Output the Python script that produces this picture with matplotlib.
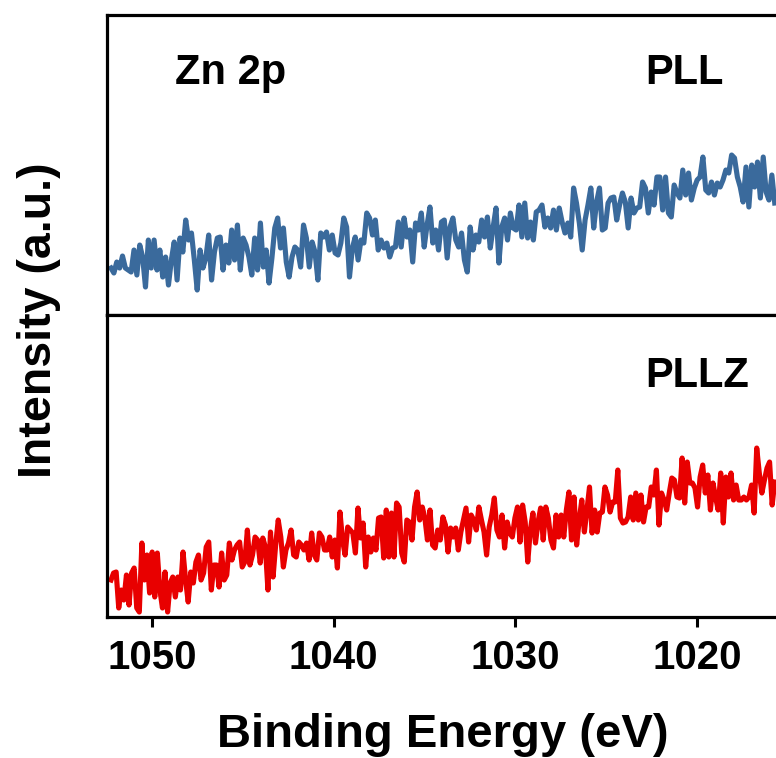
"""
Zn 2p XPS spectra of PLL and PLLZ, stacked panels.
"""
import numpy as np
import matplotlib
matplotlib.use("Agg")
from matplotlib import pyplot as plt

plt.rcParams['font.family'] = ['Liberation Sans', 'DejaVu Sans']
plt.rcParams['font.weight'] = 'bold'

# binding energy span covered by the traces (eV)
E_START = 1052.26
E_END = 1015.72

# PLL intensity (a.u.), read from high to low binding energy
pll = [
    52, 47, 58, 52, 64, 52, 50, 48, 70, 45, 75, 63, 33, 80, 52, 80, 50, 70, 43, 63,
    35, 60, 78, 40, 82, 68, 100, 80, 87, 60, 30, 70, 52, 62, 85, 40, 68, 82, 83, 50,
    75, 57, 90, 60, 95, 50, 82, 75, 63, 45, 82, 50, 97, 53, 70, 37, 62, 92, 102, 72,
    92, 58, 43, 63, 73, 70, 53, 95, 82, 53, 78, 68, 40, 87,
    83, 88, 70, 85, 67, 65, 77, 102, 93, 43, 72, 83, 60, 80, 77, 107, 102, 85, 100, 70,
    80, 72, 77, 63, 72, 73, 98, 73, 102, 83, 90, 58, 97, 90, 107, 73, 95, 113, 77, 90,
    70, 98, 100, 62, 93, 102, 80, 73, 87, 60, 48, 93, 70, 85, 78, 100, 83, 103, 72, 93,
    112, 57, 93, 102, 80, 107, 92, 90, 115, 83, 117, 82, 98, 80, 108, 110, 115, 93, 102, 92,
    110,
    90, 112, 98, 87, 97, 83, 132, 117, 97, 70, 100, 115, 132, 92, 118, 132, 90, 92, 117, 122,
    123, 100, 115, 127, 118, 92, 122, 107, 112, 113, 138, 132, 107, 128, 115, 143, 143, 110, 143, 107,
    103, 135, 127, 122, 150, 125, 147, 120, 132, 140, 143, 163, 130, 127, 138, 125, 137, 133, 140, 150,
    147, 165, 162, 143, 133, 118, 153, 113, 155, 133, 158, 122, 163, 128, 120, 145, 117,
]

# PLLZ intensity (a.u.), read from high to low binding energy
pllz = [
    40, 47, 48, 12, 30, 20, 45, 15, 47, 52, 12, 8, 77, 40, 65, 27, 68, 23, 67, 30,
    12, 48, 8, 37, 43, 23, 43, 30, 68, 40, 18, 48, 37, 58, 65, 40, 47, 73, 78, 30,
    55, 55, 33, 67, 40, 45, 77, 60, 70, 75, 78, 53, 58, 90, 55, 65, 83, 80, 57, 82,
    73, 30, 88, 43, 75, 100, 83, 53, 70, 77, 90, 65, 63, 78, 75, 70, 77, 60, 87, 65,
    60, 87, 83, 70,
    70, 83, 63, 80, 52, 108, 80, 65, 93, 90, 87, 67, 112, 82, 97, 53, 83, 68, 82, 70,
    102, 103, 62, 110, 63, 107, 63, 117, 113, 67, 58, 100, 98, 80, 113, 128, 100, 113, 102, 80,
    110, 75, 72, 90, 80, 103, 95, 68, 92, 83, 92, 70, 88, 100, 112, 78, 105, 100, 90, 113,
    100, 88, 65, 93, 105, 122, 90, 83, 105, 72, 98, 87, 83, 102, 113, 78, 115, 98, 58, 90,
    107, 77, 98, 112, 80, 113, 102, 80, 72, 105, 83,
    105, 83, 110, 128, 80, 123, 75, 100, 120, 88, 110, 133, 87, 110, 88, 107, 108, 133, 125, 108,
    118, 118, 150, 102, 97, 98, 103, 123, 100, 127, 100, 125, 98, 113, 113, 133, 125, 150, 95, 127,
    120, 110, 127, 142, 140, 123, 122, 162, 117, 158, 137, 137, 132, 113, 143, 155, 127, 145, 110, 137,
    123, 110, 147, 97, 143, 123, 147, 120, 135, 120, 120, 123, 120, 123, 135, 107, 172, 147, 127, 140,
    152, 158, 115, 138,
]

tick_energies = [1050, 1040, 1030, 1020]

BLUE = '#3a6a9c'
RED = '#e80000'


def style_axis(ax):
    for side in ['left', 'top', 'bottom']:
        ax.spines[side].set_linewidth(2.3)
    ax.spines['right'].set_visible(False)
    ax.set_yticks([])
    ax.set_xlim(1052.48, 1015.65)


def main():
    fig = plt.figure(figsize=(7.76, 7.58), dpi=100)
    ax_top = fig.add_axes([0.1379, 0.5844, 0.8621, 0.3958])
    ax_bot = fig.add_axes([0.1379, 0.1860, 0.8621, 0.3984])

    e_pll = np.linspace(E_START, E_END, len(pll))
    e_pllz = np.linspace(E_START, E_END, len(pllz))

    ax_top.plot(e_pll, pll, color=BLUE, lw=3.7, solid_joinstyle='round')
    ax_bot.plot(e_pllz, pllz, color=RED, lw=3.7, solid_joinstyle='round')

    style_axis(ax_top)
    style_axis(ax_bot)
    ax_top.set_ylim(5, 305)
    ax_bot.set_ylim(3, 305)

    ax_top.set_xticks([])
    ax_bot.set_xticks(tick_energies)
    ax_bot.set_xticklabels([str(t) for t in tick_energies])
    ax_bot.tick_params(axis='x', direction='out', length=7, width=2.2,
                       labelsize=29, pad=9)

    ax_bot.set_xlabel("Binding Energy (eV)", fontsize=34, fontweight='bold', labelpad=26)
    ax_bot.xaxis.label.set_x((443 - 107) / 669)

    fig.text(39 / 776, 1 - 320 / 758, "Intensity (a.u.)", rotation=90,
             ha='center', va='center', fontsize=33.5, fontweight='bold')

    fig.text(175 / 776, 1 - 73 / 758, "Zn 2p", ha='left', va='center',
             fontsize=30, fontweight='bold')
    fig.text(645 / 776, 1 - 73 / 758, "PLL", ha='left', va='center',
             fontsize=30, fontweight='bold')
    fig.text(645 / 776, 1 - 376 / 758, "PLLZ", ha='left', va='center',
             fontsize=30, fontweight='bold')

    fig.savefig("out.png", dpi=100)


if __name__ == '__main__':
    main()
